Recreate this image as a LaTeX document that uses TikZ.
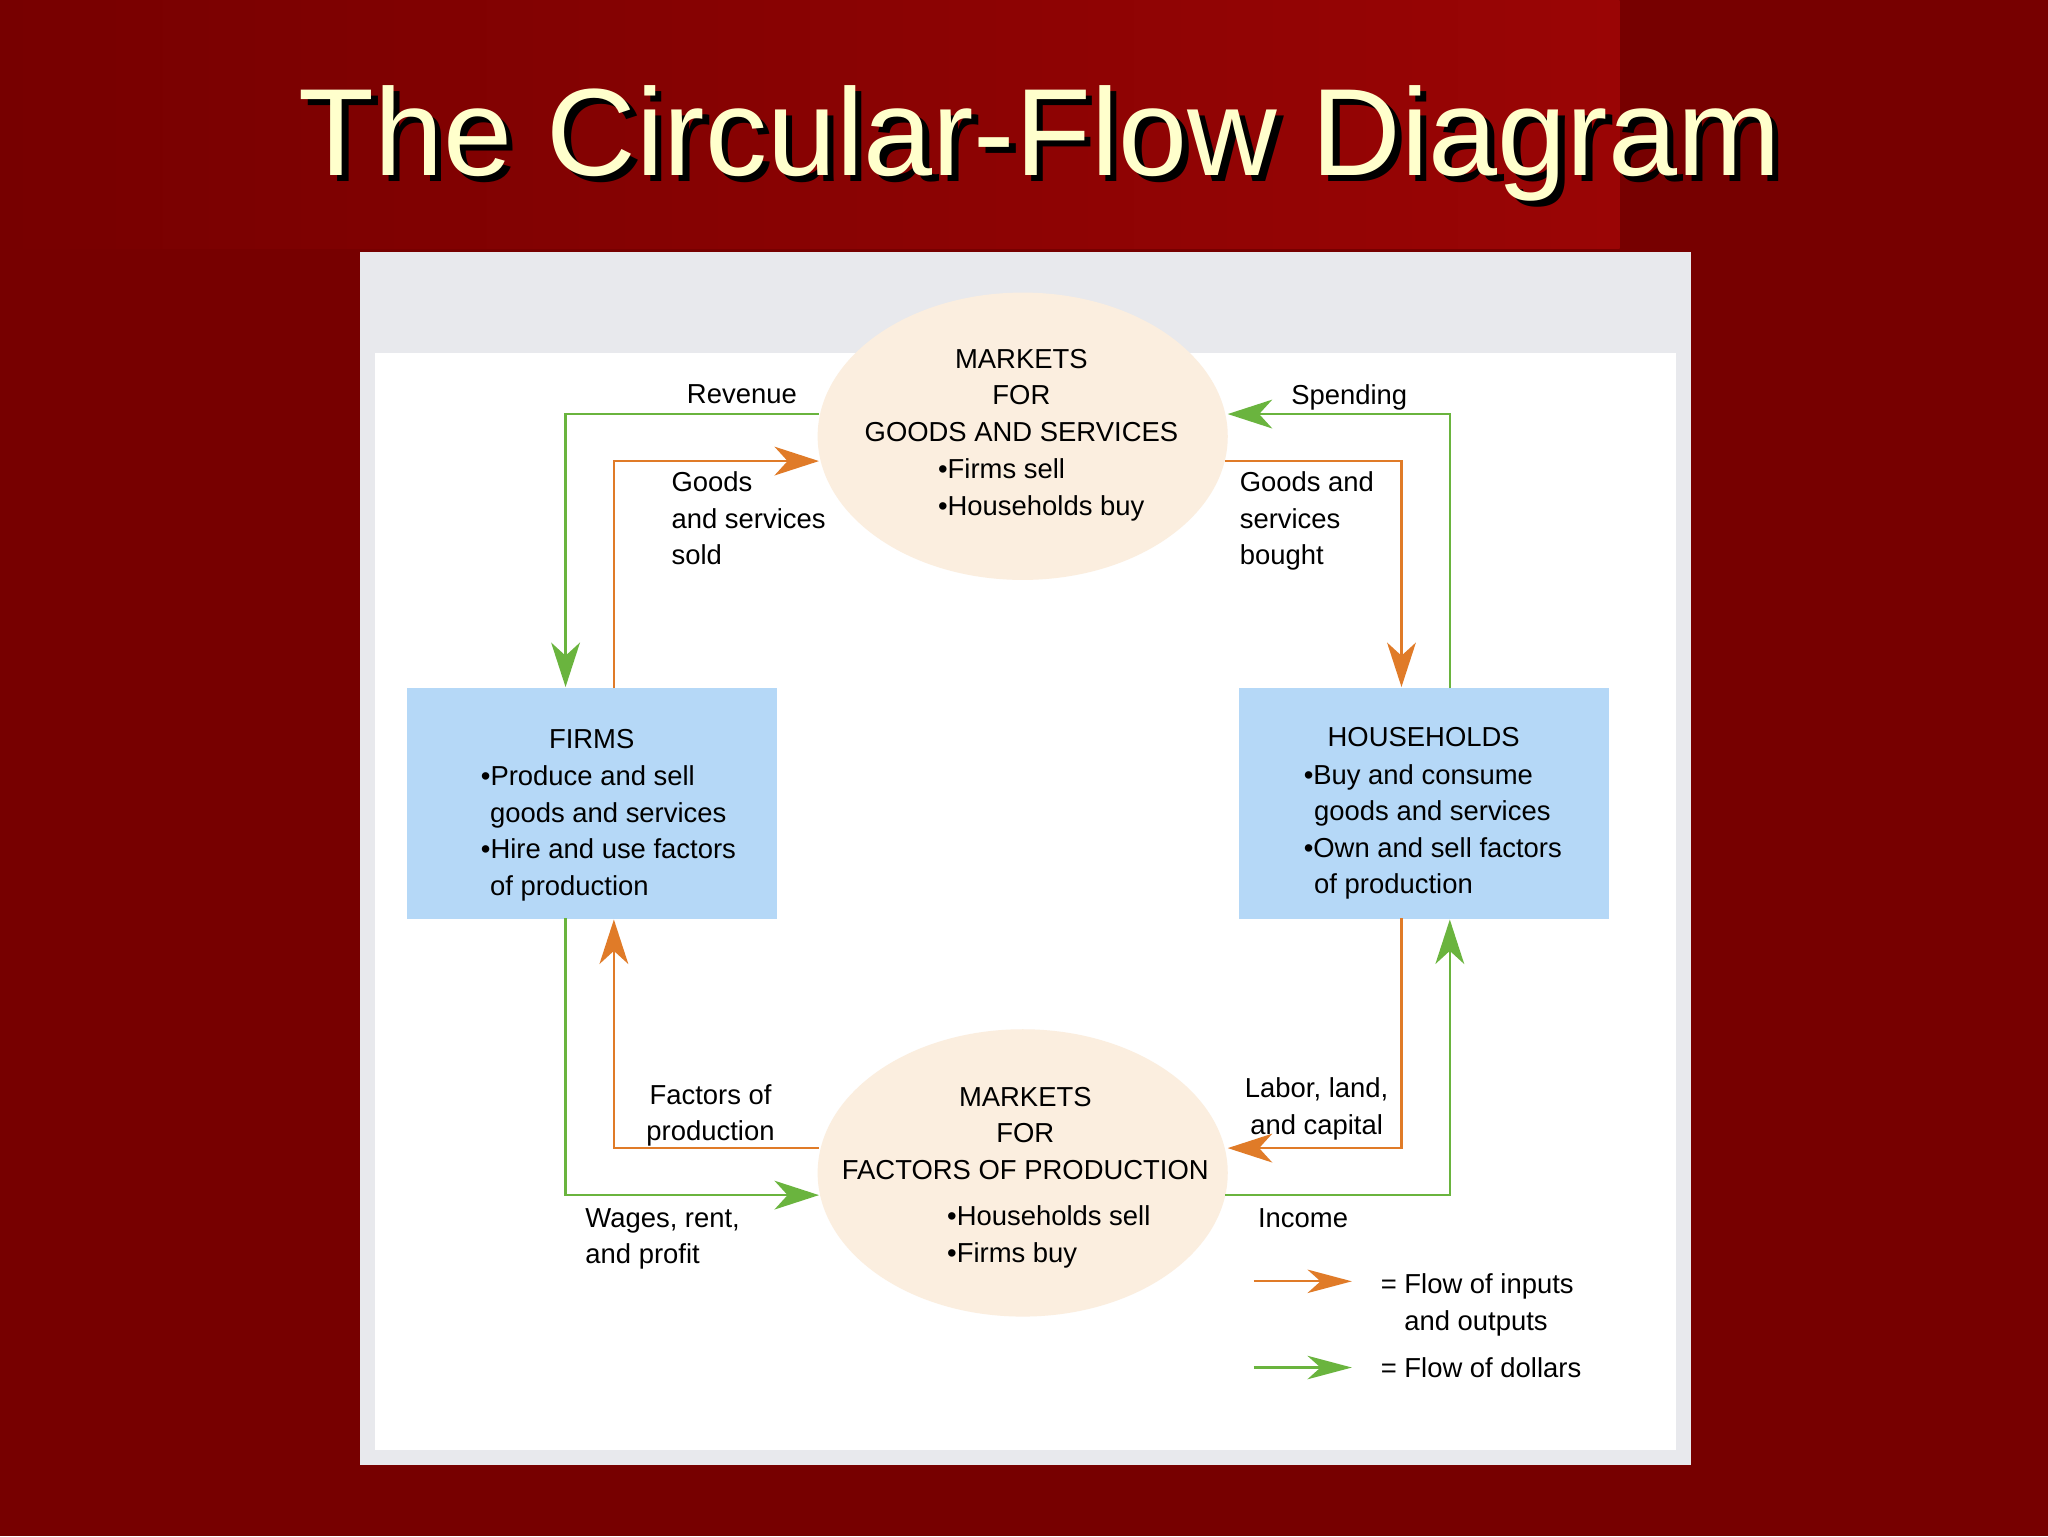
\documentclass[tikz,border=0pt]{standalone}
\usepackage{fontspec}
\setmainfont{Liberation Sans}
\usetikzlibrary{arrows.meta,shapes.geometric}
\definecolor{bgred}{HTML}{770000}
\definecolor{bgred2}{HTML}{9A0505}
\definecolor{cream}{HTML}{FFFFCC}
\definecolor{ell}{HTML}{FBEEDF}
\definecolor{boxb}{HTML}{B5D8F7}
\definecolor{org}{HTML}{E07B28}
\definecolor{grn}{HTML}{6AB43E}
\definecolor{band}{HTML}{E8E9ED}
\begin{document}
\begin{tikzpicture}[x=1pt,y=-1pt,
  txt/.style={font=\fontsize{21}{28}\selectfont,inner sep=0pt},
  lt/.style={txt,align=left,anchor=north west},
  ct/.style={txt,align=center,anchor=north},
  flowo/.style={draw=org,line width=2pt,-{Stealth[length=34pt,width=22pt,inset=10pt]}},
  flowg/.style={draw=grn,line width=2pt,-{Stealth[length=34pt,width=22pt,inset=10pt]}},
  ellip/.style={ellipse,fill=ell,minimum width=314pt,minimum height=220pt,inner sep=0pt},
  box/.style={rectangle,fill=boxb,minimum width=283pt,minimum height=177pt,inner sep=0pt}]
\useasboundingbox (0,0) rectangle (1568,1176);
\fill[bgred] (0,0) rectangle (1568,1176);
\shade[left color=bgred,right color=bgred2] (0,0) rectangle (1240,190);
% title with shadow
\node[font=\fontsize{95}{95}\selectfont,text=cream] (title) at (796,112)
  {\rlap{\hspace*{5pt}\raisebox{-5pt}{\textcolor{black}{The Circular-Flow Diagram}}}The Circular-Flow Diagram};
% panel
\fill[band] (276,193) rectangle (1295,1122);
\fill[white] (287,270) rectangle (1283,1110);
% shapes
\node[ellip] (gm) at (783,334) {};
\node[ellip] (fm) at (783,898) {};
\node[box] (firms) at (453,615) {};
\node[box] (hh) at (1090,615) {};
% coordinates
\coordinate (gmL1) at (627,317); \coordinate (gmL2) at (627,353);
\coordinate (gmR1) at (940,317); \coordinate (gmR2) at (938,353);
\coordinate (fmL1) at (627,879); \coordinate (fmL2) at (627,915);
\coordinate (fmR1) at (940,879); \coordinate (fmR2) at (938,915);
% top flows
\draw[flowg] (gmL1) -| (433,526);
\draw[flowo] (470,527) |- (gmL2);
\draw[flowg] (1110,527) |- (gmR1);
\draw[flowo] (gmR2) -| (1073,526);
% bottom flows
\draw[flowo] (fmL1) -| (470,704);
\draw[flowg] (433,703) |- (fmL2);
\draw[flowo] (1073,703) |- (fmR1);
\draw[flowg] (fmR2) -| (1110,704);
% legend
\coordinate (lo1) at (960,981); \coordinate (lo2) at (1035,981);
\coordinate (lg1) at (960,1047); \coordinate (lg2) at (1035,1047);
\draw[flowo,line width=1.6pt,-{Stealth[length=34pt,width=18pt,inset=10pt]}] (lo1) -- (lo2);
\draw[flowg,line width=1.6pt,-{Stealth[length=34pt,width=18pt,inset=10pt]}] (lg1) -- (lg2);
\node[lt] (leg1) at (1057,975) {= Flow of inputs\\\hspace*{18pt}and outputs};
\node[lt] (leg2) at (1057,1039) {= Flow of dollars};
% texts
\node[ct] (gmt) at (782,267) {MARKETS\\FOR\\GOODS AND SERVICES};
\node[lt] (gmb) at (718,351) {•Firms sell\\•Households buy};
\node[ct] (fmt) at (785,832) {MARKETS\\FOR\\FACTORS OF PRODUCTION};
\node[lt] (fmb) at (725,923) {•Households sell\\•Firms buy};
\node[ct] (fh) at (453,558) {FIRMS};
\node[lt] (fb) at (368,586) {•Produce and sell\\\hspace*{7pt}goods and services\\•Hire and use factors\\\hspace*{7pt}of production};
\node[ct] (hhh) at (1090,557) {HOUSEHOLDS};
\node[lt] (hb) at (998,585) {•Buy and consume\\\hspace*{8pt}goods and services\\•Own and sell factors\\\hspace*{8pt}of production};
\node[ct] (rev) at (568,294) {Revenue};
\node[ct] (spd) at (1033,294) {Spending};
\node[lt] (gss) at (514,361) {Goods\\and services\\sold};
\node[lt] (gsb) at (949,361) {Goods and\\services\\bought};
\node[ct] (fop) at (544,830) {Factors of\\production};
\node[ct] (llc) at (1008,825) {Labor, land,\\and capital};
\node[lt] (wrp) at (448,925) {Wages, rent,\\and profit};
\node[lt] (inc) at (963,925) {Income};
\end{tikzpicture}
\end{document}
